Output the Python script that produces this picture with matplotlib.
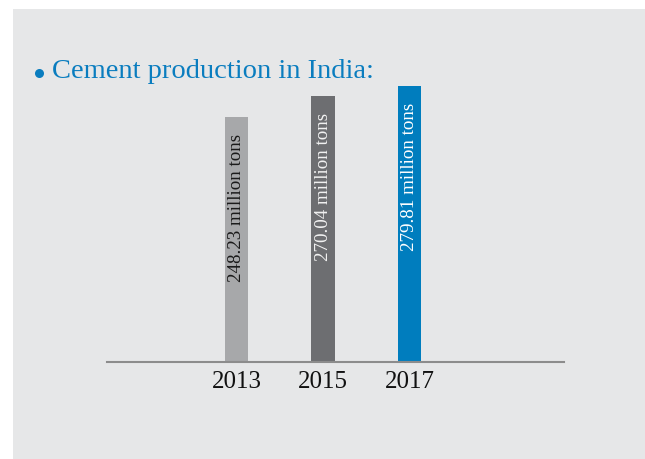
import matplotlib
matplotlib.use("Agg")
import matplotlib.pyplot as plt
from matplotlib.patches import Rectangle
from matplotlib.lines import Line2D

years = ["2013", "2015", "2017"]
production = [248.23, 270.04, 279.81]
bar_colors = ["#a7a8aa", "#6d6e71", "#007dbe"]
label_colors = ["#1a1a1a", "#f2f2f2", "#ffffff"]
title = "Cement production in India:"

W, H = 645, 460
fig = plt.figure(figsize=(W / 100, H / 100), dpi=100)
fig.patch.set_facecolor("white")

# grey panel behind the chart
fig.add_artist(Rectangle((13 / W, 0), 1 - 13 / W, (H - 10) / H,
                         transform=fig.transFigure, facecolor="#e6e7e8",
                         edgecolor="none", zorder=0))

serif = ["Liberation Serif", "DejaVu Serif"]

# heading with bullet
fig.add_artist(Line2D([39 / W], [1 - 74 / H], transform=fig.transFigure,
                      marker="o", markersize=6.5, color="#0a7dbf",
                      markeredgewidth=0, linestyle="none"))
fig.text(52 / W, 1 - 72 / H, title, fontsize=20.5, color="#0a7dbf",
         family=serif, va="center", ha="left")

ax = fig.add_axes([107 / W, 1 - 363 / H, (564 - 107) / W, 295.5 / H])
ax.set_facecolor("none")
x = list(range(len(years)))
ax.bar(x, production, width=0.266, color=bar_colors, zorder=2)
ax.set_xlim(-1.497, 3.786)
ax.set_ylim(0, 300)

for xi, v, c in zip(x, production, label_colors):
    ax.text(xi, v - 16, f"{v:.2f} million tons", rotation=90, ha="center",
            va="top", fontsize=13.7, color=c, family=serif, zorder=3)

for s in ["top", "left", "right"]:
    ax.spines[s].set_visible(False)
ax.spines["bottom"].set_color("#8c8c8c")
ax.spines["bottom"].set_linewidth(1.5)
ax.set_yticks([])
ax.set_xticks(x)
ax.set_xticklabels(years, fontsize=18, family=serif, color="#111111")
ax.tick_params(axis="x", length=0, pad=6)

fig.savefig("out.png", dpi=100)
